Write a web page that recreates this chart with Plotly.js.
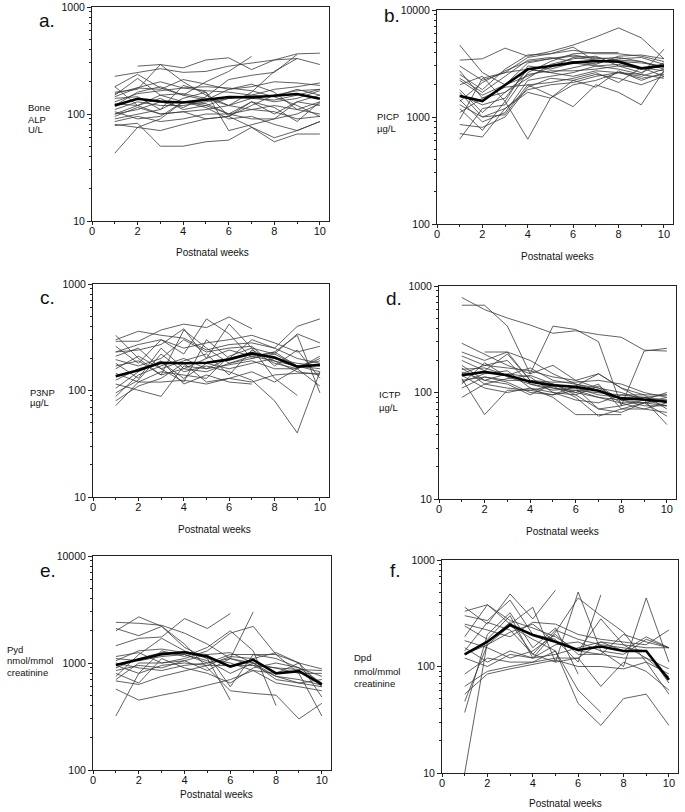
<!DOCTYPE html>
<html><head><meta charset="utf-8">
<script src="https://cdn.plot.ly/plotly-3.0.1.min.js"></script>
<style>html,body{margin:0;padding:0;background:#fff}#plot{width:685px;height:812px}</style>
</head><body><div id="plot"></div>
<script>
const weeks = [1,2,3,4,5,6,7,8,9,10];

// Panel a: Bone ALP U/L
const alpMean = [120,139,131,128,136,144,143,148,154,139];
const alpSubjects = [
 [225,245,265,245,250,280,300,320,365,370],
 [null,280,290,270,320,335,260,320,330,290],
 [180,235,175,150,200,250,345,null,null,null],
 [160,170,290,200,150,120,160,250,330,null],
 [145,175,170,210,190,170,180,200,195,185],
 [130,155,165,175,165,160,150,145,120,95],
 [120,160,180,150,135,170,190,160,110,130],
 [110,130,120,120,130,140,150,170,180,195],
 [100,110,130,115,145,210,230,245,360,null],
 [95,115,100,105,110,120,140,135,150,170],
 [90,100,110,185,160,70,80,90,100,125],
 [85,95,85,90,100,100,130,115,85,130],
 [80,75,70,80,90,95,75,60,70,85],
 [78,82,50,50,55,57,75,55,65,65],
 [43,75,90,130,120,100,110,120,110,100],
 [155,175,200,175,180,175,165,145,170,150],
 [140,145,110,140,160,95,130,100,130,150],
 [125,120,140,110,120,140,145,130,140,165],
 [105,90,95,130,125,100,90,90,130,120],
 [100,120,150,155,140,120,110,105,90,95],
 [180,120,100,105,90,95,120,150,165,170],
 [150,215,150,130,115,90,95,80,70,85]
];

// Panel b: PICP µg/L
const picpMean = [1570,1410,1990,2790,3000,3220,3340,3290,2850,3020];
const picpSubjects = [
 [4700,2600,2000,2400,2900,3600,3400,3300,3200,3000],
 [3400,3500,4400,3700,4100,4700,5600,6800,5500,3500],
 [3000,2200,2600,3600,3900,4200,3900,3900,3700,3300],
 [2500,1800,2800,3800,3900,4500,3300,null,null,null],
 [2200,1600,2000,3200,3500,3800,3500,3600,3300,2900],
 [2000,2400,1400,3000,2800,3200,3000,2800,2500,4300],
 [1800,1100,1700,2500,2700,2700,2800,3000,2900,2700],
 [1600,1300,1500,2800,2600,2400,2700,2600,2300,2500],
 [1450,900,1100,2200,2400,2600,3000,3100,2800,3000],
 [1300,1000,1050,2000,1600,1250,2000,1700,1300,2700],
 [1200,750,1400,620,1500,2200,2500,2300,2000,2400],
 [1100,1500,1900,2000,2100,2300,2600,2100,2900,2400],
 [950,2300,2600,2800,2600,2900,3200,3500,3600,3100],
 [850,800,1000,1900,2300,2200,1900,2700,2200,2600],
 [700,650,1200,1800,2000,2100,2400,2600,2500,2300],
 [620,1200,1300,2600,3300,3900,4000,4000,null,null],
 [2700,1500,1700,2300,3100,3500,3700,3000,2600,3200],
 [1400,2100,2700,3300,3500,3700,3600,3400,3300,2800],
 [2300,1700,2400,3400,3600,3300,3100,3700,3800,3500],
 [1700,1000,1200,1700,1500,2000,2200,2600,2400,2800]
];

// Panel c: P3NP µg/L
const p3npMean = [136,155,182,180,182,196,223,204,167,174];
const p3npSubjects = [
 [330,200,140,370,250,180,210,230,170,150],
 [300,360,330,310,240,270,280,250,400,470],
 [290,290,370,420,390,490,380,null,null,null],
 [260,180,300,220,470,340,200,220,340,280],
 [230,240,270,380,200,420,250,130,90,null],
 [210,250,160,120,300,200,230,180,160,210],
 [195,170,200,300,230,250,260,170,240,130],
 [180,130,250,160,150,180,200,230,330,95],
 [160,210,160,190,220,140,240,190,150,140],
 [145,120,120,125,115,130,150,120,160,200],
 [125,160,185,130,180,160,180,200,180,170],
 [115,100,88,170,160,200,300,250,200,180],
 [105,150,190,115,140,120,115,null,null,null],
 [95,125,220,150,170,150,125,80,40,150],
 [88,140,170,200,160,175,190,160,160,110],
 [80,110,130,180,120,130,120,140,145,145],
 [72,120,150,140,130,210,250,220,170,190],
 [230,270,300,250,280,300,330,280,230,260],
 [170,190,140,160,200,240,210,190,170,160]
];

// Panel d: ICTP µg/L
const ictpMean = [145,156,145,126,117,113,104,88,86,82];
const ictpSubjects = [
 [780,600,500,430,360,380,350,330,250,245],
 [660,660,420,150,420,390,300,75,245,260],
 [290,230,180,150,180,130,150,110,95,95],
 [240,200,240,200,150,120,105,80,80,85],
 [220,180,200,120,110,105,100,95,90,80],
 [200,160,230,130,120,95,70,65,80,75],
 [180,130,150,140,100,85,80,95,95,70],
 [165,170,145,170,130,120,110,85,80,60],
 [155,130,120,95,120,100,120,70,80,90],
 [145,110,100,110,90,62,62,62,null,null],
 [135,62,105,105,95,115,150,110,85,50],
 [125,150,160,110,100,95,115,85,75,75],
 [120,190,140,120,105,110,70,75,85,100],
 [110,140,125,100,95,105,90,80,70,65],
 [90,120,110,105,115,90,60,70,70,80],
 [130,140,130,130,125,125,130,120,100,90],
 [null,240,240,130,110,100,90,85,90,95],
 [150,180,170,160,140,130,110,100,85,75],
 [170,120,135,145,120,110,95,90,90,85]
];

// Panel e: Pyd nmol/mmol creatinine
const pydMean = [958,1080,1210,1260,1150,925,1070,800,840,630];
const pydSubjects = [
 [2400,2350,2250,1900,1500,1100,950,900,870,850],
 [2100,1800,2200,1400,1100,450,null,null,null,null],
 [2000,2700,2200,1500,900,550,520,500,300,420],
 [1450,1700,1750,2600,2100,2900,null,null,null,null],
 [1150,1250,1000,1100,1300,1900,2200,1200,800,320],
 [1100,1050,1150,1200,1000,1200,1200,1200,1000,480],
 [1000,900,850,950,1000,1100,3000,null,null,null],
 [950,800,1300,1150,1400,2000,1300,400,null,null],
 [900,1100,1250,1200,1050,800,1000,700,650,600],
 [800,650,1100,900,800,650,900,1000,900,750],
 [750,1200,1700,1300,1100,1000,850,800,1000,600],
 [700,1000,1000,1050,1200,1250,1000,900,800,800],
 [680,630,750,850,950,950,950,750,650,700],
 [570,450,500,550,620,700,850,650,600,550],
 [320,800,950,1000,950,1150,1100,1250,1000,880],
 [1050,1300,1350,1250,1200,600,1200,1100,900,650],
 [850,950,900,1050,850,1100,1000,750,700,620]
];

// Panel f: Dpd nmol/mmol creatinine
const dpdMean = [130,171,246,198,171,143,154,140,140,75];
const dpdSubjects = [
 [10,170,260,130,110,120,170,140,190,150],
 [360,250,480,280,520,null,null,null,null,null],
 [330,380,250,360,110,500,140,100,440,110],
 [300,270,420,200,180,110,470,null,null,null],
 [250,220,190,260,250,200,180,170,160,220],
 [240,180,300,120,210,440,300,210,110,55],
 [190,380,270,230,190,140,130,200,170,150],
 [150,110,140,120,160,170,140,130,180,150],
 [130,160,240,180,140,60,37,null,null,null],
 [120,100,130,120,130,150,170,160,150,150],
 [85,120,110,110,140,45,28,50,55,28],
 [65,90,100,110,120,120,65,110,90,60],
 [55,85,95,105,115,100,100,95,110,85],
 [47,160,210,250,170,140,280,160,120,80],
 [37,200,320,150,230,85,null,null,null,null],
 [140,260,220,130,220,180,160,150,140,70],
 [175,150,120,140,200,130,130,120,120,95]
];

const panelLetters = ['a.','b.','c.','d.','e.','f.'];
const yLabels = [['Bone','ALP','U/L'],['PICP','µg/L'],['P3NP','µg/L'],['ICTP','µg/L'],['Pyd','nmol/mmol','creatinine'],['Dpd','nmol/mmol','creatinine']];
const xTitle = 'Postnatal weeks';
const yDecades = [[1,3],[2,4],[1,3],[1,3],[2,4],[1,3]];

const panels = [
 {mean: alpMean, subj: alpSubjects},
 {mean: picpMean, subj: picpSubjects},
 {mean: p3npMean, subj: p3npSubjects},
 {mean: ictpMean, subj: ictpSubjects},
 {mean: pydMean, subj: pydSubjects},
 {mean: dpdMean, subj: dpdSubjects}
];

// layout geometry in pixels
const W = 685, H = 812;
const geo = [
 {x0:92, x1:329, yt:7,   yb:221, letter:[37,21],  lab:[26,[108,119,130]], xt:[212,253]},
 {x0:437,x1:673, yt:10,  yb:224, letter:[382,16], lab:[375,[117,128]],     xt:[557,256]},
 {x0:93, x1:329, yt:284, yb:497, letter:[38,297], lab:[28,[392,403]],      xt:[214,529]},
 {x0:439,x1:676, yt:286, yb:499, letter:[384,298],lab:[377,[395,407]],     xt:[562,531]},
 {x0:93, x1:331, yt:556, yb:770, letter:[38,570], lab:[5,[649,660,672]],   xt:[216,794]},
 {x0:442,x1:678, yt:560, yb:773, letter:[388,570],lab:[352,[657,671,683]], xt:[565,803]}
];

const traces = [];
const layout = {
 width: W, height: H, margin:{l:0,r:0,t:0,b:0},
 paper_bgcolor:'#fff', plot_bgcolor:'#fff', showlegend:false,
 font:{family:'Liberation Sans, Arial, sans-serif', color:'#111', size:10},
 annotations: []
};

panels.forEach((p, i) => {
 const n = i === 0 ? '' : String(i+1);
 const xa = 'x'+n, ya = 'y'+n;
 p.subj.forEach(s => traces.push({x: weeks, y: s, xaxis: xa, yaxis: ya, type:'scatter', mode:'lines',
   line:{color:'#3a3a3a', width:0.8}, connectgaps:false, hoverinfo:'skip'}));
 traces.push({x: weeks, y: p.mean, xaxis: xa, yaxis: ya, type:'scatter', mode:'lines',
   line:{color:'#000', width:2.6}});
 const g = geo[i];
 const d = yDecades[i];
 const majors = [], minors = [];
 for (let e = d[0]; e <= d[1]; e++) majors.push(Math.pow(10, e));
 for (let e = d[0]; e < d[1]; e++) for (let k = 2; k <= 9; k++) minors.push(k*Math.pow(10, e));
 layout['xaxis'+n] = {
   domain:[g.x0/W, g.x1/W], anchor: ya, range:[0,10.4], showgrid:false, zeroline:false,
   showline:true, linecolor:'#222', linewidth:1, mirror:true,
   ticks:'outside', ticklen:3, tickwidth:1, tickcolor:'#222', tickvals:[0,2,4,6,8,10],
   ticklabelstandoff:-3,
   tickfont:{size:11, color:'#111'},
   minor:{ticks:'outside', ticklen:2, tickcolor:'#222', tickvals:[1,3,5,7,9], showgrid:false}
 };
 layout['yaxis'+n] = {
   domain:[1-g.yb/H, 1-g.yt/H], anchor: xa, type:'log', range:d, showgrid:false, zeroline:false,
   showline:true, linecolor:'#222', linewidth:1, mirror:true,
   ticks:'outside', ticklen:4, tickwidth:1, tickcolor:'#222', tickvals: majors, ticktext: majors.map(String),
   tickfont:{size:10.5, color:'#111'},
   minor:{ticks:'outside', ticklen:2.5, tickcolor:'#222', tickvals: minors, showgrid:false}
 };
 layout.annotations.push({xref:'paper', yref:'paper', x:g.letter[0]/W, y:1-g.letter[1]/H,
   xanchor:'left', yanchor:'middle', text: panelLetters[i], showarrow:false, font:{size:19, color:'#111'}});
 yLabels[i].forEach((t, k) => layout.annotations.push({xref:'paper', yref:'paper', x:g.lab[0]/W, y:1-g.lab[1][k]/H,
   xanchor:'left', yanchor:'middle', text:t, showarrow:false, font:{size:9.5, color:'#111'}}));
 layout.annotations.push({xref:'paper', yref:'paper', x:g.xt[0]/W, y:1-g.xt[1]/H,
   xanchor:'center', yanchor:'middle', text:xTitle, showarrow:false, font:{size:10, color:'#111'}});
});

Plotly.newPlot('plot', traces, layout, {displayModeBar:false, staticPlot:true});
</script></body></html>
